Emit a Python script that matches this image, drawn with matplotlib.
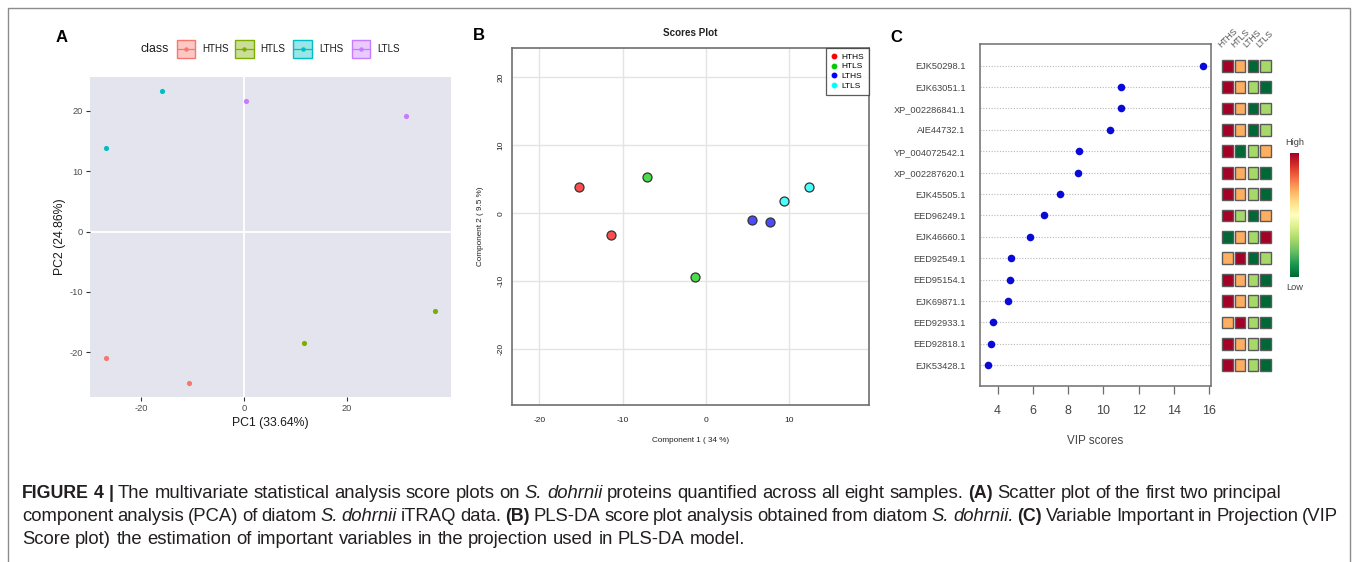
import matplotlib
matplotlib.use("Agg")
import matplotlib.pyplot as plt
import numpy as np
from matplotlib.patches import Rectangle
from matplotlib.lines import Line2D
from matplotlib.transforms import Affine2D, blended_transform_factory
from matplotlib.colors import ListedColormap, BoundaryNorm, to_rgba

plt.rcParams['font.family'] = ['Liberation Sans', 'DejaVu Sans']
plt.rcParams['axes.unicode_minus'] = False

# ---------------- data ----------------
classes = ["HTHS", "HTLS", "LTHS", "LTLS"]

# Panel A: PCA scores (two samples per class)
pca_pc1 = {"HTHS": [-26.7, -10.7], "HTLS": [11.6, 37.1],
           "LTHS": [-15.9, -26.7], "LTLS": [0.4, 31.4]}
pca_pc2 = {"HTHS": [-20.9, -25.0], "HTLS": [-18.5, -13.2],
           "LTHS": [23.3, 13.8], "LTLS": [21.6, 19.2]}
pca_colors = {"HTHS": "#F8766D", "HTLS": "#7CAE00", "LTHS": "#00BFC4", "LTLS": "#C77CFF"}

# Panel B: PLS-DA scores
pls_c1 = {"HTHS": [-15.2, -11.4], "HTLS": [-7.1, -1.3],
          "LTHS": [5.5, 7.7], "LTLS": [9.4, 12.4]}
pls_c2 = {"HTHS": [3.8, -3.2], "HTLS": [5.4, -9.4],
          "LTHS": [-1.0, -1.3], "LTLS": [1.8, 3.8]}
pls_colors = {"HTHS": "#FF0000", "HTLS": "#00CD00", "LTHS": "#0000FF", "LTLS": "#00FFFF"}

# Panel C: VIP scores
proteins = ["EJK50298.1", "EJK63051.1", "XP_002286841.1", "AIE44732.1", "YP_004072542.1",
            "XP_002287620.1", "EJK45505.1", "EED96249.1", "EJK46660.1", "EED92549.1",
            "EED95154.1", "EJK69871.1", "EED92933.1", "EED92818.1", "EJK53428.1"]
vip = [15.63, 10.98, 10.98, 10.37, 8.63, 8.54, 7.55, 6.63, 5.85, 4.74, 4.68, 4.57, 3.75, 3.64, 3.45]
# relative abundance rank per class (4 = high, 1 = low), columns HTHS, HTLS, LTHS, LTLS
ranks = [[4, 3, 1, 2], [4, 3, 2, 1], [4, 3, 1, 2], [4, 3, 1, 2], [4, 1, 2, 3],
         [4, 3, 2, 1], [4, 3, 2, 1], [4, 2, 1, 3], [1, 3, 2, 4], [3, 4, 1, 2],
         [4, 3, 2, 1], [4, 3, 2, 1], [3, 4, 2, 1], [4, 3, 2, 1], [4, 3, 2, 1]]

# ---------------- figure ----------------
W, H = 1358, 562
fig = plt.figure(figsize=(W / 100, H / 100), dpi=100)
fig.patch.set_facecolor("white")
pxT = Affine2D().scale(1.0 / W, -1.0 / H).translate(0, 1) + fig.transFigure


def ax_px(x0, y0, x1, y1):
    return fig.add_axes([x0 / W, 1 - y1 / H, (x1 - x0) / W, (y1 - y0) / H])


# outer frame
fig.add_artist(Rectangle((8, 8), 1342, 620, transform=pxT, fill=False,
                         edgecolor="#8C8C8C", linewidth=1.0, clip_on=False))

# ================= Panel A =================
axA = ax_px(90, 77, 451, 397)
axA.set_facecolor("#E4E4EE")
for s in axA.spines.values():
    s.set_visible(False)
axA.axhline(0, color="white", lw=1.3, zorder=1)
axA.axvline(0, color="white", lw=1.3, zorder=1)
for c in classes:
    axA.scatter(pca_pc1[c], pca_pc2[c], s=14, color=pca_colors[c], zorder=3, linewidths=0)
axA.set_xlim(-29.9, 40.2)
axA.set_ylim(-27.4, 25.6)
axA.set_xticks([-20, 0, 20])
axA.set_yticks([-20, -10, 0, 10, 20])
axA.tick_params(length=3, width=0.8, color="#333333", labelsize=6.7,
                labelcolor="#4D4D4D", pad=2)
fig.text(270.5, 423, "PC1 (33.64%)", transform=pxT, ha="center", va="center",
         fontsize=8.8, color="#1A1A1A")
fig.text(60, 237, "PC2 (24.86%)", transform=pxT, ha="center", va="center",
         rotation=90, fontsize=8.8, color="#1A1A1A")

# legend for panel A (top)
fig.text(169, 49, "class", transform=pxT, ha="right", va="center", fontsize=8.9, color="#1A1A1A")
for i, c in enumerate(classes):
    kx = 176.7 + 58.3 * i
    col = pca_colors[c]
    fig.add_artist(Rectangle((kx, 40), 18.5, 18.4, transform=pxT,
                             facecolor=to_rgba(col, 0.4), edgecolor=col, lw=1.0))
    fig.add_artist(Line2D([kx + 1, kx + 17.5], [49.2, 49.2], transform=pxT, color=col, lw=0.9))
    fig.add_artist(Line2D([kx + 9.25], [49.2], transform=pxT, marker="o", markersize=3.2,
                          color=col, markeredgewidth=0))
    fig.text(kx + 25.6, 49.2, c, transform=pxT, ha="left", va="center", fontsize=7.1,
             color="#1A1A1A")

fig.text(62, 38, "A", transform=pxT, ha="center", va="center", fontsize=12,
         fontweight="bold")

# ================= Panel B =================
axB = ax_px(512, 47.7, 869, 405)
axB.grid(True, color="#E4E4E4", lw=1.0)
axB.set_axisbelow(True)
for c in classes:
    axB.scatter(pls_c1[c], pls_c2[c], s=42, color=to_rgba(pls_colors[c], 0.7),
                edgecolors="#333333", linewidths=0.9, zorder=3)
axB.set_xlim(-23.3, 19.6)
axB.set_ylim(-28.2, 24.35)
axB.set_xticks([-20, -10, 0, 10])
axB.set_yticks([-20, -10, 0, 10, 20])
for s in axB.spines.values():
    s.set_color("#6E6E6E")
    s.set_linewidth(1.2)
axB.tick_params(length=0, labelsize=6, labelcolor="#222222")
axB.tick_params(axis="x", pad=8.5)
axB.tick_params(axis="y", pad=5.5)
for lab in axB.get_yticklabels():
    lab.set_rotation(90)
    lab.set_va("center")
handles = [Line2D([], [], marker="o", ls="", color=pls_colors[c], markersize=3.2) for c in classes]
leg = axB.legend(handles, classes, loc="upper right", fontsize=6, frameon=True, fancybox=False,
                 borderaxespad=0, labelspacing=0.25, handlelength=0.8, handletextpad=0.45,
                 borderpad=0.6)
leg.get_frame().set_edgecolor("#333333")
leg.get_frame().set_linewidth(0.9)
fig.text(690.5, 33, "Scores Plot", transform=pxT, ha="center", va="center",
         fontsize=7.1, fontweight="bold", color="#222222")
fig.text(690.5, 440, "Component 1 ( 34 %)", transform=pxT, ha="center", va="center",
         fontsize=5.9, color="#222222")
fig.text(480, 226, "Component 2 ( 9.5 %)", transform=pxT, ha="center", va="center",
         rotation=90, fontsize=5.9, color="#222222")
fig.text(479, 36, "B", transform=pxT, ha="center", va="center", fontsize=12,
         fontweight="bold")

# ================= Panel C =================
n = len(proteins)
ypos = np.arange(n, 0, -1)
axC = ax_px(980, 44, 1211, 386)
axC.scatter(vip, ypos, s=30, color="#0A0AD8", zorder=3, linewidths=0)
axC.set_xlim(3.0, 16.1)
axC.set_ylim(0.03, 16.01)
axC.set_yticks(ypos)
axC.set_yticklabels(proteins)
axC.set_xticks([4, 6, 8, 10, 12, 14, 16])
axC.grid(axis="y", color="#B8B8B8", linestyle=(0, (1, 1.5)), lw=0.8)
axC.set_axisbelow(True)
for s in axC.spines.values():
    s.set_color("#6E6E6E")
    s.set_linewidth(1.1)
axC.tick_params(axis="y", length=0, pad=10.5, labelsize=6.7, labelcolor="#444444")
axC.tick_params(axis="x", length=6, width=0.9, color="#6E6E6E", pad=8, labelsize=9,
                labelcolor="#444444")
fig.text(1095, 441, "VIP scores", transform=pxT, ha="center", va="center",
         fontsize=8.4, color="#444444")
fig.text(896, 37, "C", transform=pxT, ha="center", va="center", fontsize=12,
         fontweight="bold")

# heatmap of ranks
axH = ax_px(1215, 44, 1280, 386)
axH.set_xlim(-0.96, 4.12)
axH.set_ylim(0.03, 16.01)
axH.axis("off")
hm_cmap = ListedColormap(["#006837", "#A6D96A", "#FDAE61", "#A50026"])
hm_norm = BoundaryNorm([0.5, 1.5, 2.5, 3.5, 4.5], hm_cmap.N)
tw, th = 0.84, 0.55
for i, row in enumerate(ranks):
    for j, r in enumerate(row):
        axH.add_patch(Rectangle((j - tw / 2, ypos[i] - th / 2), tw, th,
                                facecolor=hm_cmap(hm_norm(r)), edgecolor="#5A5A5A", lw=1.0))
bt = blended_transform_factory(axH.transData, axH.transAxes)
for j, c in enumerate(classes):
    axH.text(j - 0.38, 0.985, c, transform=bt, rotation=45, rotation_mode="anchor",
             ha="left", va="bottom", fontsize=6.2, color="#555555", clip_on=False)

# color key
axCB = ax_px(1290, 153.3, 1299, 276.7)
grad = np.linspace(0, 1, 256).reshape(-1, 1)
axCB.imshow(grad, aspect="auto", cmap="RdYlGn_r", origin="lower")
axCB.axis("off")
fig.text(1294.5, 142.7, "High", transform=pxT, ha="center", va="center", fontsize=6.7,
         color="#444444")
fig.text(1294.5, 287.7, "Low", transform=pxT, ha="center", va="center", fontsize=6.7,
         color="#444444")

# ================= Caption (justified) =================
renderer = fig.canvas.get_renderer()
cap_color = "#231F20"


def style_kw(st):
    kw = dict(fontsize=13.3, color=cap_color)
    if st == "b":
        kw["fontweight"] = "bold"
        kw["fontsize"] = 12.8
    elif st == "i":
        kw["fontstyle"] = "italic"
    return kw


_cache = {}


def measure(s, st):
    key = (s, st)
    if key in _cache:
        return _cache[key]
    kw = style_kw(st)
    t1 = fig.text(0, 0, s + "l", **kw)
    w1 = t1.get_window_extent(renderer).width
    t1.remove()
    t2 = fig.text(0, 0, "l", **kw)
    w2 = t2.get_window_extent(renderer).width
    t2.remove()
    _cache[key] = w1 - w2
    return w1 - w2


caption_lines = [
    [("FIGURE 4 |", "b"), (" The multivariate statistical analysis score plots on ", "n"),
     ("S. dohrnii", "i"), (" proteins quantified across all eight samples. ", "n"), ("(A)", "b"),
     (" Scatter plot of the first two principal", "n")],
    [("component analysis (PCA) of diatom ", "n"), ("S. dohrnii", "i"), (" iTRAQ data. ", "n"),
     ("(B)", "b"), (" PLS-DA score plot analysis obtained from diatom ", "n"),
     ("S. dohrnii.", "i"), (" ", "n"), ("(C)", "b"),
     (" Variable Important in Projection (VIP", "n")],
    [("Score plot) the estimation of important variables in the projection used in PLS-DA model.", "n")],
]
baselines = [498, 521, 544]
right_edges = [1282, 1338, None]
x_left = 22

for line, yb, xr in zip(caption_lines, baselines, right_edges):
    # split line into words, each word a list of (text, style) runs
    words, cur = [], []
    for txt, st in line:
        parts = txt.split(" ")
        for k, p in enumerate(parts):
            if k > 0:
                if cur:
                    words.append(cur)
                cur = []
            if p:
                cur.append((p, st))
    if cur:
        words.append(cur)
    wwidths = [sum(measure(p, st) for p, st in w) for w in words]
    space = measure(" ", "n")
    natural = sum(wwidths) + space * (len(words) - 1)
    gap = space
    if xr is not None and len(words) > 1:
        gap = space + ((xr - x_left) - natural) / (len(words) - 1)
    x = x_left
    for w, ww in zip(words, wwidths):
        xx = x
        for p, st in w:
            fig.text(xx, yb, p, transform=pxT, ha="left", va="baseline", **style_kw(st))
            xx += measure(p, st)
        x += ww + gap

fig.savefig("out.png", dpi=100)
